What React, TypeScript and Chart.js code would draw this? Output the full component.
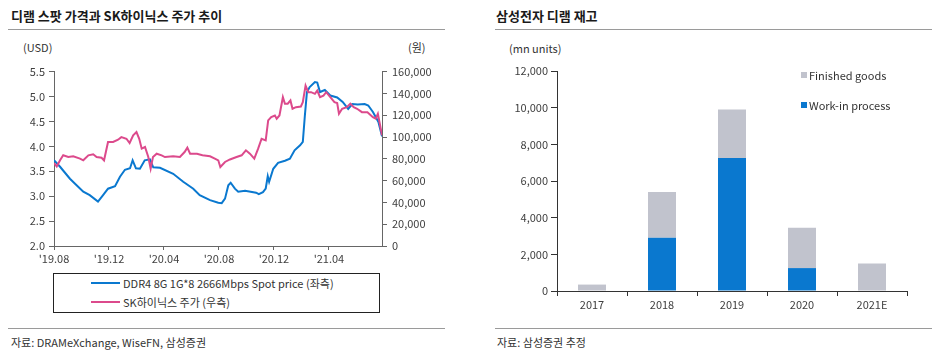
import React, { useEffect, useRef } from "react";
import { Chart, registerables } from "chart.js";

Chart.register(...registerables);

// ---------- Left chart data ----------
const xTickLabels = ["'19.08", "'19.12", "'20.04", "'20.08", "'20.12", "'21.04"];
const xTickMonths = [0, 4, 8, 12, 16, 20];

// DRAM spot price (USD), x = months since Aug 2019
const dramMonths = [
  0, 0.44, 1.16, 1.53, 2.13, 2.6, 3.2, 3.57, 3.93, 4.44, 4.8, 5.16, 5.53, 5.72, 5.96, 6.25, 6.6, 6.98,
  7.22, 7.71, 8.67, 9.4, 10.13, 10.6, 11.35, 11.95, 12.2, 12.44, 12.68, 12.85, 13.16, 13.4, 13.9, 14.7,
  14.9, 15.2, 15.4, 15.55, 15.65, 15.95, 16.3, 16.8, 17.16, 17.5, 17.9, 18.1, 18.25, 18.4, 18.6, 18.98,
  19.15, 19.35, 19.7, 20.1, 20.6, 21.0, 21.4, 21.7, 22.1, 22.6, 22.86, 23.2, 23.6, 23.86,
];
const dramPrice = [
  3.72, 3.59, 3.35, 3.25, 3.09, 3.02, 2.89, 3.02, 3.15, 3.2, 3.39, 3.53, 3.56, 3.72, 3.56, 3.55, 3.72, 3.74,
  3.58, 3.57, 3.45, 3.29, 3.15, 3.02, 2.92, 2.87, 2.86, 2.95, 3.22, 3.27, 3.15, 3.09, 3.11, 3.07,
  3.04, 3.08, 3.15, 3.4, 3.29, 3.55, 3.67, 3.71, 3.75, 3.92, 4.02, 4.09, 4.62, 5.09, 5.19, 5.29,
  5.28, 5.09, 5.13, 5.02, 4.98, 4.89, 4.75, 4.85, 4.84, 4.85, 4.82, 4.69, 4.49, 4.2,
];

// SK hynix share price (KRW)
const hynixMonths = [
  0, 0.2, 0.44, 0.67, 1.04, 1.4, 1.89, 2.13, 2.5, 2.85, 3.1, 3.46, 3.64, 3.93, 4.3, 4.66, 4.9, 5.27,
  5.5, 5.76, 6.0, 6.2, 6.38, 6.62, 6.86, 7.03, 7.2, 7.47, 7.83, 8.07, 8.67, 9.16, 9.5, 9.7, 9.9, 10.4,
  10.8, 11.35, 11.7, 11.95, 12.1, 12.44, 12.8, 13.28, 13.65, 13.96, 14.25, 14.57, 14.85, 15.1, 15.4,
  15.58, 15.8, 16.07, 16.2, 16.4, 16.65, 16.8, 17.0, 17.2, 17.35, 17.6, 17.96, 18.1, 18.3, 18.5, 18.7,
  18.98, 19.15, 19.35, 19.6, 19.8, 20.07, 20.4, 20.6, 20.73, 20.96, 21.3, 21.56, 21.8, 22.05, 22.4,
  22.8, 23.2, 23.4, 23.56, 23.7, 23.86,
];
const hynixPrice = [
  76000, 73000, 78600, 83200, 81600, 82300, 80200, 78600, 83200, 84100, 81600, 81000, 78600, 95400,
  95400, 97500, 99900, 98400, 94500, 101500, 104500, 98400, 89300, 90800, 81600, 71000, 81600, 84700,
  83200, 81600, 82300, 81600, 86200, 90200, 84700, 84700, 83200, 82300, 80200, 78600, 72500, 77100,
  79400, 81600, 83200, 87800, 84700, 80200, 89300, 98400, 96900, 115200, 118200, 119700, 116800,
  119700, 136500, 130500, 130500, 133500, 125900, 127400, 128000, 131900, 147200, 141100, 141100,
  139600, 142600, 136500, 138000, 141100, 137100, 131900, 131100, 121300, 125900, 127400, 130500,
  127400, 125900, 122800, 122800, 118200, 116800, 121300, 112200, 101500,
];

// ---------- Right chart data ----------
const years = ["2017", "2018", "2019", "2020", "2021E"];
const workInProcess = [0, 2900, 7250, 1250, 0];
const finishedGoods = [350, 2500, 2650, 2200, 1500];

const BLUE = "#0a78cf";
const PINK = "#dc4a8c";
const GRAY = "#c1c3cd";
const AXIS = "#666666";
const TICK = "#404040";
const FONT = '"Noto Sans CJK KR", "Noto Sans", sans-serif';

function LeftChart() {
  const ref = useRef<HTMLCanvasElement>(null);
  useEffect(() => {
    const ctx = ref.current!;
    const tickFont = { family: FONT, size: 11 };
    const chart = new Chart(ctx, {
      type: "line",
      data: {
        datasets: [
          {
            label: "SK하이닉스 주가 (우측)",
            data: hynixMonths.map((x, i) => ({ x, y: hynixPrice[i] })),
            yAxisID: "yR",
            borderColor: PINK,
            backgroundColor: PINK,
            borderWidth: 2,
            pointRadius: 0,
            tension: 0,
          },
          {
            label: "DDR4 8G 1G*8 2666Mbps Spot price (좌측)",
            data: dramMonths.map((x, i) => ({ x, y: dramPrice[i] })),
            yAxisID: "yL",
            borderColor: BLUE,
            backgroundColor: BLUE,
            borderWidth: 2,
            pointRadius: 0,
            tension: 0,
          },
        ],
      },
      options: {
        animation: false,
        responsive: false,
        layout: { padding: { top: 11, left: 0, right: 0, bottom: 0 } },
        plugins: { legend: { display: false }, tooltip: { enabled: false } },
        scales: {
          x: {
            type: "linear",
            min: 0,
            max: 23.86,
            afterBuildTicks: (s: any) => {
              s.ticks = xTickMonths.map((v) => ({ value: v }));
            },
            afterFit: (s: any) => {
              s.height = 24;
            },
            ticks: {
              font: tickFont,
              color: TICK,
              padding: 2,
              maxRotation: 0,
              autoSkip: false,
              callback: (v: any) => {
                const i = xTickMonths.indexOf(Number(v));
                return i >= 0 ? xTickLabels[i] : "";
              },
            },
            grid: { drawOnChartArea: false, tickLength: 4, color: AXIS },
            border: { color: AXIS },
          },
          yL: {
            position: "left",
            min: 2,
            max: 5.5,
            afterFit: (s: any) => {
              s.width = 54;
            },
            ticks: {
              stepSize: 0.5,
              font: tickFont,
              color: TICK,
              padding: 4,
              callback: (v: any) => Number(v).toFixed(1),
            },
            grid: { drawOnChartArea: false, tickLength: 5, color: AXIS },
            border: { color: AXIS },
          },
          yR: {
            position: "right",
            min: 0,
            max: 160000,
            afterFit: (s: any) => {
              s.width = 64;
            },
            ticks: {
              stepSize: 20000,
              font: tickFont,
              color: TICK,
              padding: 5,
              callback: (v: any) => Number(v).toLocaleString("en-US"),
            },
            grid: { drawOnChartArea: false, tickLength: 5, color: AXIS },
            border: { color: AXIS },
          },
        },
      },
    } as any);
    return () => chart.destroy();
  }, []);
  return <canvas ref={ref} width={446} height={210} style={{ display: "block" }} />;
}

function RightChart() {
  const ref = useRef<HTMLCanvasElement>(null);
  useEffect(() => {
    const ctx = ref.current!;
    const tickFont = { family: FONT, size: 11 };
    const chart = new Chart(ctx, {
      type: "bar",
      data: {
        labels: years,
        datasets: [
          {
            label: "Work-in process",
            data: workInProcess,
            backgroundColor: BLUE,
            barPercentage: 0.4,
            categoryPercentage: 1,
          },
          {
            label: "Finished goods",
            data: finishedGoods,
            backgroundColor: GRAY,
            barPercentage: 0.4,
            categoryPercentage: 1,
          },
        ],
      },
      options: {
        animation: false,
        responsive: false,
        layout: { padding: { top: 11, left: 0, right: 25, bottom: 0 } },
        plugins: { legend: { display: false }, tooltip: { enabled: false } },
        scales: {
          x: {
            stacked: true,
            afterFit: (s: any) => {
              s.height = 23;
            },
            ticks: { font: tickFont, color: TICK, padding: 2, maxRotation: 0 },
            grid: { offset: true, drawOnChartArea: false, tickLength: 5, color: "#333333" },
            border: { color: "#333333" },
          },
          y: {
            stacked: true,
            min: 0,
            max: 12000,
            afterFit: (s: any) => {
              s.width = 91;
            },
            ticks: {
              stepSize: 2000,
              font: tickFont,
              color: TICK,
              padding: 3,
              callback: (v: any) => Number(v).toLocaleString("en-US"),
            },
            grid: { drawOnChartArea: false, tickLength: 6, color: "#333333" },
            border: { color: "#333333" },
          },
        },
      },
    } as any);
    return () => chart.destroy();
  }, []);
  return <canvas ref={ref} width={466} height={254} style={{ display: "block" }} />;
}

const abs = (left: number, top: number, extra: React.CSSProperties = {}): React.CSSProperties => ({
  position: "absolute",
  left,
  top,
  ...extra,
});

export default function App() {
  const title: React.CSSProperties = {
    fontFamily: FONT,
    fontSize: 13,
    fontWeight: 700,
    color: "#1a1a1a",
    lineHeight: "18px",
    whiteSpace: "nowrap",
  };
  const small: React.CSSProperties = {
    fontFamily: FONT,
    fontSize: 11,
    color: "#333333",
    lineHeight: "16px",
    whiteSpace: "nowrap",
  };
  const rule = (left: number, top: number, width: number) => (
    <div style={abs(left, top, { width, height: 1, background: "#9a9a9a" })} />
  );
  return (
    <div
      style={{
        position: "absolute",
        left: 0,
        top: 0,
        width: 932,
        height: 356,
        background: "#ffffff",
        overflow: "hidden",
      }}
    >
      {/* Left panel */}
      <div style={abs(11, 7, title)}>디램 스팟 가격과 SK하이닉스 주가 추이</div>
      {rule(8, 29, 437)}
      <div style={abs(23, 39, small)}>(USD)</div>
      <div style={abs(408, 39, small)}>(원)</div>
      <div style={abs(0, 60)}>
        <LeftChart />
      </div>
      <div
        style={abs(53, 273, {
          width: 325,
          height: 38,
          border: "1px solid #222222",
        })}
      />
      <div style={abs(91, 282, { width: 29, height: 2, background: BLUE })} />
      <div style={abs(123, 275, small)}>DDR4 8G 1G*8 2666Mbps Spot price (좌측)</div>
      <div style={abs(91, 301, { width: 29, height: 2, background: PINK })} />
      <div style={abs(123, 294, small)}>SK하이닉스 주가 (우측)</div>
      {rule(8, 328, 437)}
      <div style={abs(11, 334, small)}>자료: DRAMeXchange, WiseFN, 삼성증권</div>

      {/* Right panel */}
      <div style={abs(496, 7, title)}>삼성전자 디램 재고</div>
      {rule(495, 29, 437)}
      <div style={abs(509, 40, small)}>(mn units)</div>
      <div style={abs(466, 60)}>
        <RightChart />
      </div>
      <div style={abs(801, 72, { width: 6, height: 6, background: GRAY })} />
      <div style={abs(809, 67, small)}>Finished goods</div>
      <div style={abs(801, 102, { width: 6, height: 6, background: BLUE })} />
      <div style={abs(809, 97, small)}>Work-in process</div>
      {rule(495, 328, 437)}
      <div style={abs(497, 334, small)}>자료: 삼성증권 추정</div>
    </div>
  );
}
